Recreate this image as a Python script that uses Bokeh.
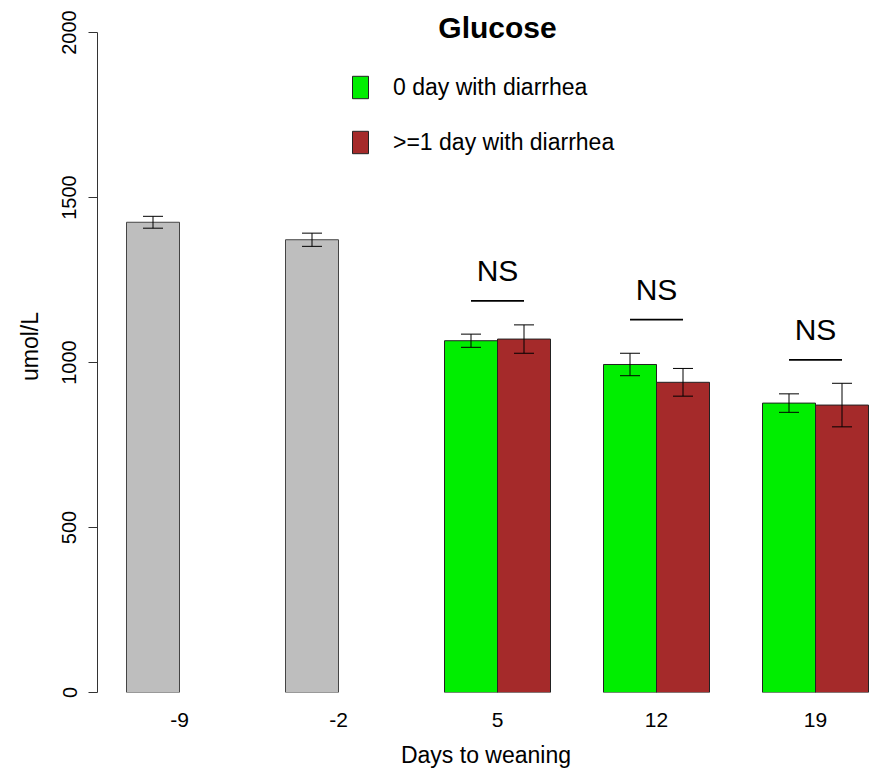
from bokeh.plotting import figure
from bokeh.models import (ColumnDataSource, Range1d, FixedTicker, Whisker, TeeHead,
                          Legend, LegendItem, Label)
from bokeh.embed import file_html
from bokeh.resources import INLINE
from bokeh.core.properties import value

# ---------------- data ----------------
days = ["-9", "-2", "5", "12", "19"]
pre_days = ["-9", "-2"]
pre_mean = [1425, 1372]
pre_se = [18, 20]
post_days = ["5", "12", "19"]
no_diarrhea_mean = [1066, 994, 877]
no_diarrhea_se = [20, 34, 28]
diarrhea_mean = [1071, 940, 871]
diarrhea_se = [43, 42, 66]
ns_labels = ["NS", "NS", "NS"]
ns_height = [1187, 1130, 1008]
y_ticks = [0, 500, 1000, 1500, 2000]
legend_labels = ["0 day with diarrhea", ">=1 day with diarrhea"]

FONT = "Liberation Sans"
GRAY = "#BEBEBE"
GREEN = "#00EE00"
BROWN = "#A52A2A"


# R barplot(beside=TRUE) layout: each group = 1 unit space + 2 bars of width 1
def group_center(d):
    return 2 + 3 * days.index(d)


def bar_center(d, k):
    return group_center(d) - 0.5 + k


def make_source(ds, k, mean, se):
    return ColumnDataSource(dict(
        x=[bar_center(d, k) for d in ds],
        top=mean,
        upper=[m + s for m, s in zip(mean, se)],
        lower=[m - s for m, s in zip(mean, se)],
    ))


src_pre = make_source(pre_days, 0, pre_mean, pre_se)
src_no = make_source(post_days, 0, no_diarrhea_mean, no_diarrhea_se)
src_di = make_source(post_days, 1, diarrhea_mean, diarrhea_se)

p = figure(width=874, height=770,
           x_range=Range1d(0.4528, 15.113), y_range=Range1d(0, 2097.0),
           output_backend="svg", toolbar_location=None,
           min_border_left=97, min_border_right=0,
           min_border_top=0, min_border_bottom=78)
p.outline_line_color = None
p.xgrid.visible = False
p.ygrid.visible = False
p.background_fill_color = "white"

r_pre = p.vbar(x="x", top="top", bottom=0, width=1, source=src_pre,
               fill_color=GRAY, line_color="#444444", line_width=1)
r_no = p.vbar(x="x", top="top", bottom=0, width=1, source=src_no,
              fill_color=GREEN, line_color="#222222", line_width=1)
r_di = p.vbar(x="x", top="top", bottom=0, width=1, source=src_di,
              fill_color=BROWN, line_color="#222222", line_width=1)

for src in (src_pre, src_no, src_di):
    w = Whisker(source=src, base="x", upper="upper", lower="lower",
                dimension="height", line_color="black", line_width=1,
                level="overlay",
                upper_head=TeeHead(size=20, line_color="black", line_width=1),
                lower_head=TeeHead(size=20, line_color="black", line_width=1))
    p.add_layout(w)

# NS brackets
ns_x = [group_center(d) for d in post_days]
src_ns = ColumnDataSource(dict(
    x=ns_x, x0=[x - 0.5 for x in ns_x], x1=[x + 0.5 for x in ns_x],
    y=ns_height, text=ns_labels))
p.segment(x0="x0", x1="x1", y0="y", y1="y", source=src_ns,
          line_color="black", line_width=1.8)
p.text(x="x", y="y", text="text", source=src_ns, y_offset=-30,
       text_align="center", text_baseline="alphabetic",
       text_font=value(FONT), text_font_size="30px", text_color="black")

# legend
legend = Legend(items=[LegendItem(label=legend_labels[0], renderers=[r_no]),
                       LegendItem(label=legend_labels[1], renderers=[r_di])],
                location=(253, 536), orientation="vertical",
                glyph_width=20, glyph_height=28, label_height=28,
                spacing=27, padding=0, margin=0, label_standoff=23,
                label_text_font=FONT, label_text_font_size="23px",
                label_text_color="black",
                border_line_alpha=0, background_fill_alpha=0)
p.add_layout(legend)

# title
p.add_layout(Label(x=8.0, y=665, x_units="data", y_units="screen", text="Glucose",
                   text_font=FONT, text_font_style="bold", text_font_size="30px",
                   text_color="black",
                   text_align="center", text_baseline="alphabetic"))

# y axis
p.yaxis.ticker = FixedTicker(ticks=y_ticks)
p.yaxis.bounds = (0, 2000)
p.yaxis.major_label_orientation = "vertical"
p.yaxis.minor_tick_line_color = None
p.yaxis.major_tick_out = 9
p.yaxis.major_tick_in = 0
p.yaxis.major_label_standoff = 12
p.yaxis.major_label_text_font = FONT
p.yaxis.major_label_text_font_size = "20px"
p.yaxis.major_label_text_color = "black"
p.yaxis.axis_line_color = "#333333"
p.yaxis.major_tick_line_color = "#333333"
p.yaxis.axis_label = "umol/L"
p.yaxis.axis_label_text_font = FONT
p.yaxis.axis_label_text_font_style = "normal"
p.yaxis.axis_label_text_font_size = "23px"
p.yaxis.axis_label_text_color = "black"
p.yaxis.axis_label_standoff = 17

# x axis
x_ticks = [group_center(d) for d in days]
p.xaxis.ticker = FixedTicker(ticks=x_ticks)
p.xaxis.major_label_overrides = {t: d for t, d in zip(x_ticks, days)}
p.xaxis.axis_line_color = None
p.xaxis.major_tick_line_color = None
p.xaxis.minor_tick_line_color = None
p.xaxis.major_label_standoff = 14
p.xaxis.major_label_text_font = FONT
p.xaxis.major_label_text_font_size = "21px"
p.xaxis.major_label_text_color = "black"
p.xaxis.axis_label = "Days to weaning"
p.xaxis.axis_label_text_font = FONT
p.xaxis.axis_label_text_font_style = "normal"
p.xaxis.axis_label_text_font_size = "23px"
p.xaxis.axis_label_text_color = "black"
p.xaxis.axis_label_standoff = 12

open("out.html", "w").write(file_html(p, INLINE))
